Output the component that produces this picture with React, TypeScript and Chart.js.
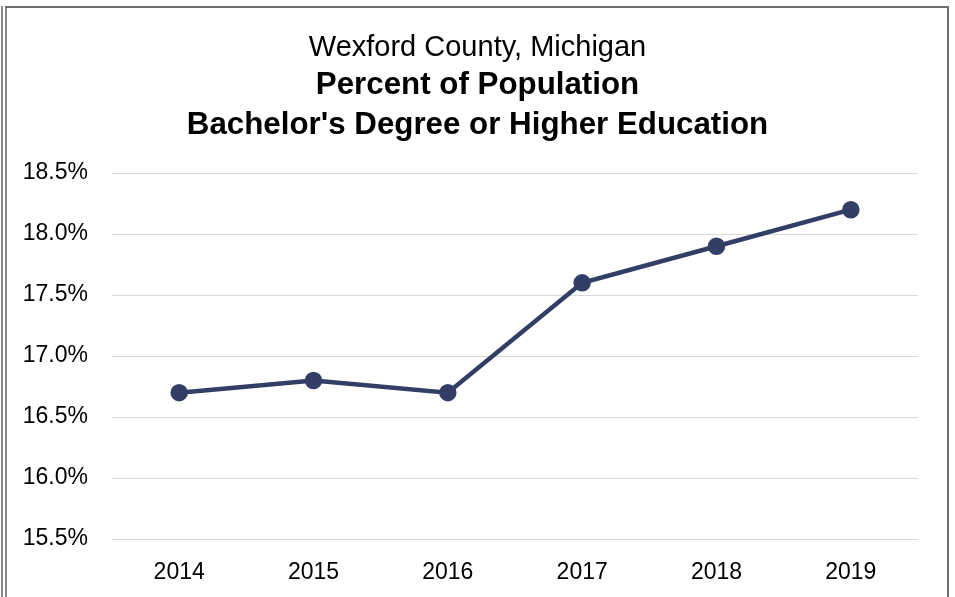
import React, { useEffect, useRef } from "react";
import { Chart, registerables } from "chart.js";

Chart.register(...registerables);

const years = ["2014", "2015", "2016", "2017", "2018", "2019"];
const bachelorPct = [16.7, 16.8, 16.7, 17.6, 17.9, 18.2];
const yMin = 15.5;
const yMax = 18.5;
const yStep = 0.5;
const titleLine = "Wexford County, Michigan";
const subtitleLines = ["Percent of Population", "Bachelor's Degree or Higher Education"];

const FONT = "'Liberation Sans', Arial, sans-serif";
const LINE_COLOR = "#323e66";

export default function App() {
  const canvasRef = useRef<HTMLCanvasElement | null>(null);

  useEffect(() => {
    const canvas = canvasRef.current;
    if (!canvas) return;
    const chart = new Chart(canvas, {
      type: "line",
      data: {
        labels: years,
        datasets: [
          {
            data: bachelorPct,
            borderColor: LINE_COLOR,
            backgroundColor: LINE_COLOR,
            borderWidth: 4.5,
            pointRadius: 6.5,
            pointHoverRadius: 6.5,
            pointBackgroundColor: LINE_COLOR,
            pointBorderColor: LINE_COLOR,
            tension: 0,
            fill: false,
          },
        ],
      },
      options: {
        responsive: false,
        animation: false,
        layout: { padding: 0 },
        plugins: {
          legend: { display: false },
          tooltip: { enabled: false },
          title: {
            display: true,
            text: titleLine,
            color: "#000",
            font: { family: FONT, size: 29, weight: "normal", lineHeight: 0.9 },
            padding: { top: 35, bottom: 0 },
          },
          subtitle: {
            display: true,
            text: subtitleLines,
            color: "#000",
            font: { family: FONT, size: 31.3, weight: "bold", lineHeight: 40 / 31.3 },
            padding: { top: 4.5, bottom: 27.5 },
          },
        },
        scales: {
          x: {
            offset: true,
            grid: { display: false, drawTicks: false },
            border: { display: false },
            ticks: {
              color: "#000",
              font: { family: FONT, size: 23, lineHeight: 1.2 },
              padding: 20,
              maxRotation: 0,
            },
            afterFit: (scale: any) => {
              scale.height = 58;
            },
          },
          y: {
            min: yMin,
            max: yMax,
            grid: { color: "#d9d9d9", lineWidth: 1, drawTicks: false },
            border: { display: false },
            ticks: {
              stepSize: yStep,
              color: "#000",
              font: { family: FONT, size: 23 },
              padding: 24,
              callback: (v: any) => Number(v).toFixed(1) + "%",
            },
            afterFit: (scale: any) => {
              scale.width = 112;
            },
          },
          yRight: {
            position: "right",
            display: true,
            min: yMin,
            max: yMax,
            grid: { display: false, drawTicks: false },
            border: { display: false },
            ticks: { display: false },
            afterFit: (scale: any) => {
              scale.width = 37;
            },
          },
        },
      },
    });
    return () => chart.destroy();
  }, []);

  return (
    <div style={{ position: "fixed", left: 0, top: 0, width: 955, height: 597, background: "#fff", overflow: "hidden" }}>
      <canvas ref={canvasRef} width={955} height={597} style={{ position: "absolute", left: 0, top: 0 }} />
      <div style={{ position: "absolute", left: 1, top: 6, width: 2, height: 600, background: "#8a8a8a" }} />
      <div style={{ position: "absolute", left: 5, top: 6, width: 2, height: 600, background: "#8a8a8a" }} />
      <div style={{ position: "absolute", left: 5, top: 6, width: 944, height: 2, background: "#6e6e6e" }} />
      <div style={{ position: "absolute", left: 947, top: 6, width: 2, height: 600, background: "#6e6e6e" }} />
    </div>
  );
}
